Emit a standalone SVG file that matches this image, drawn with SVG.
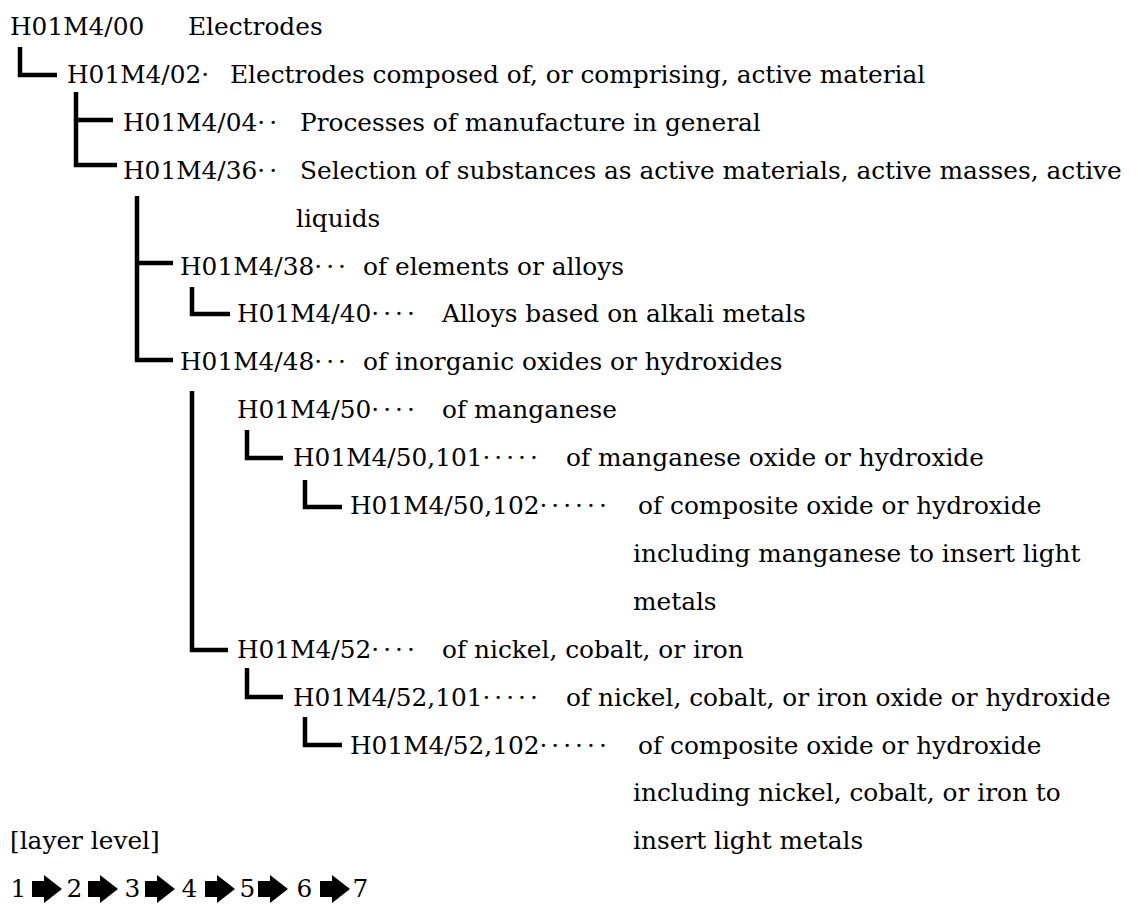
<svg xmlns="http://www.w3.org/2000/svg" xmlns:xlink="http://www.w3.org/1999/xlink" width="1138" height="907" viewBox="0 0 1138 907">
<style>
.t{font-family:"DejaVu Serif","Liberation Serif",serif;font-size:24.8px;fill:#000}
.d{letter-spacing:4px}
.c{fill:none;stroke:#000;stroke-width:4.5;stroke-linejoin:miter;stroke-linecap:butt}
</style>
<defs>
<polygon id="arr" points="0,-8 12,-8 12,-14 30,0 12,14 12,8 0,8" fill="#000"/>
</defs>
<rect width="1138" height="907" fill="#fff"/>
<g id="connectors">
<path class="c" d="M20,47 V75 H57"/>
<path class="c" d="M76,92 V165 H117 M76,120 H113"/>
<path class="c" d="M137,196 V360 H173 M137,263 H173"/>
<path class="c" d="M192,287 V314 H230"/>
<path class="c" d="M192,391 V650 H228"/>
<path class="c" d="M247,430 V458 H283"/>
<path class="c" d="M305,480 V507 H342"/>
<path class="c" d="M247,668 V697 H283"/>
<path class="c" d="M305,717 V745 H342"/>
</g>
<g id="n00"><text class="t" x="10" y="35">H01M4/00</text><text class="t" x="188" y="35">Electrodes</text></g>
<g id="n02"><text class="t" x="67" y="82.9">H01M4/02<tspan class="d">·</tspan></text><text class="t" x="230" y="82.9">Electrodes composed of, or comprising, active material</text></g>
<g id="n04"><text class="t" x="123" y="130.8">H01M4/04<tspan class="d">··</tspan></text><text class="t" x="300" y="130.8">Processes of manufacture in general</text></g>
<g id="n36"><text class="t" x="123" y="178.7">H01M4/36<tspan class="d">··</tspan></text><text class="t" x="300" y="178.7">Selection of substances as active materials, active masses, active</text><text class="t" x="296" y="226.6">liquids</text></g>
<g id="n38"><text class="t" x="180" y="274.5">H01M4/38<tspan class="d">···</tspan></text><text class="t" x="363" y="274.5">of elements or alloys</text></g>
<g id="n40"><text class="t" x="237" y="322.4">H01M4/40<tspan class="d">····</tspan></text><text class="t" x="442" y="322.4">Alloys based on alkali metals</text></g>
<g id="n48"><text class="t" x="180" y="370.3">H01M4/48<tspan class="d">···</tspan></text><text class="t" x="363" y="370.3">of inorganic oxides or hydroxides</text></g>
<g id="n50"><text class="t" x="237" y="418.2">H01M4/50<tspan class="d">····</tspan></text><text class="t" x="442" y="418.2">of manganese</text></g>
<g id="n50-101"><text class="t" x="293" y="466.1">H01M4/50,101<tspan class="d">·····</tspan></text><text class="t" x="566" y="466.1">of manganese oxide or hydroxide</text></g>
<g id="n50-102"><text class="t" x="350" y="514">H01M4/50,102<tspan class="d">······</tspan></text><text class="t" x="638" y="514">of composite oxide or hydroxide</text><text class="t" x="633" y="561.9">including manganese to insert light</text><text class="t" x="633" y="609.8">metals</text></g>
<g id="n52"><text class="t" x="237" y="657.7">H01M4/52<tspan class="d">····</tspan></text><text class="t" x="442" y="657.7">of nickel, cobalt, or iron</text></g>
<g id="n52-101"><text class="t" x="293" y="705.6">H01M4/52,101<tspan class="d">·····</tspan></text><text class="t" x="566" y="705.6">of nickel, cobalt, or iron oxide or hydroxide</text></g>
<g id="n52-102"><text class="t" x="350" y="753.5">H01M4/52,102<tspan class="d">······</tspan></text><text class="t" x="638" y="753.5">of composite oxide or hydroxide</text><text class="t" x="633" y="801.4">including nickel, cobalt, or iron to</text><text class="t" x="633" y="849.3">insert light metals</text></g>
<g id="legend">
<text class="t" x="10" y="849.3">[layer level]</text>
<g text-anchor="middle">
<text class="t" x="18.5" y="897">1</text>
<text class="t" x="74.5" y="897">2</text>
<text class="t" x="132.5" y="897">3</text>
<text class="t" x="189.5" y="897">4</text>
<text class="t" x="247.5" y="897">5</text>
<text class="t" x="304.5" y="897">6</text>
<text class="t" x="360.5" y="897">7</text>
</g>
<use xlink:href="#arr" x="32" y="889"/>
<use xlink:href="#arr" x="88" y="889"/>
<use xlink:href="#arr" x="145" y="889"/>
<use xlink:href="#arr" x="205" y="889"/>
<use xlink:href="#arr" x="258" y="889"/>
<use xlink:href="#arr" x="320" y="889"/>
</g>
</svg>
